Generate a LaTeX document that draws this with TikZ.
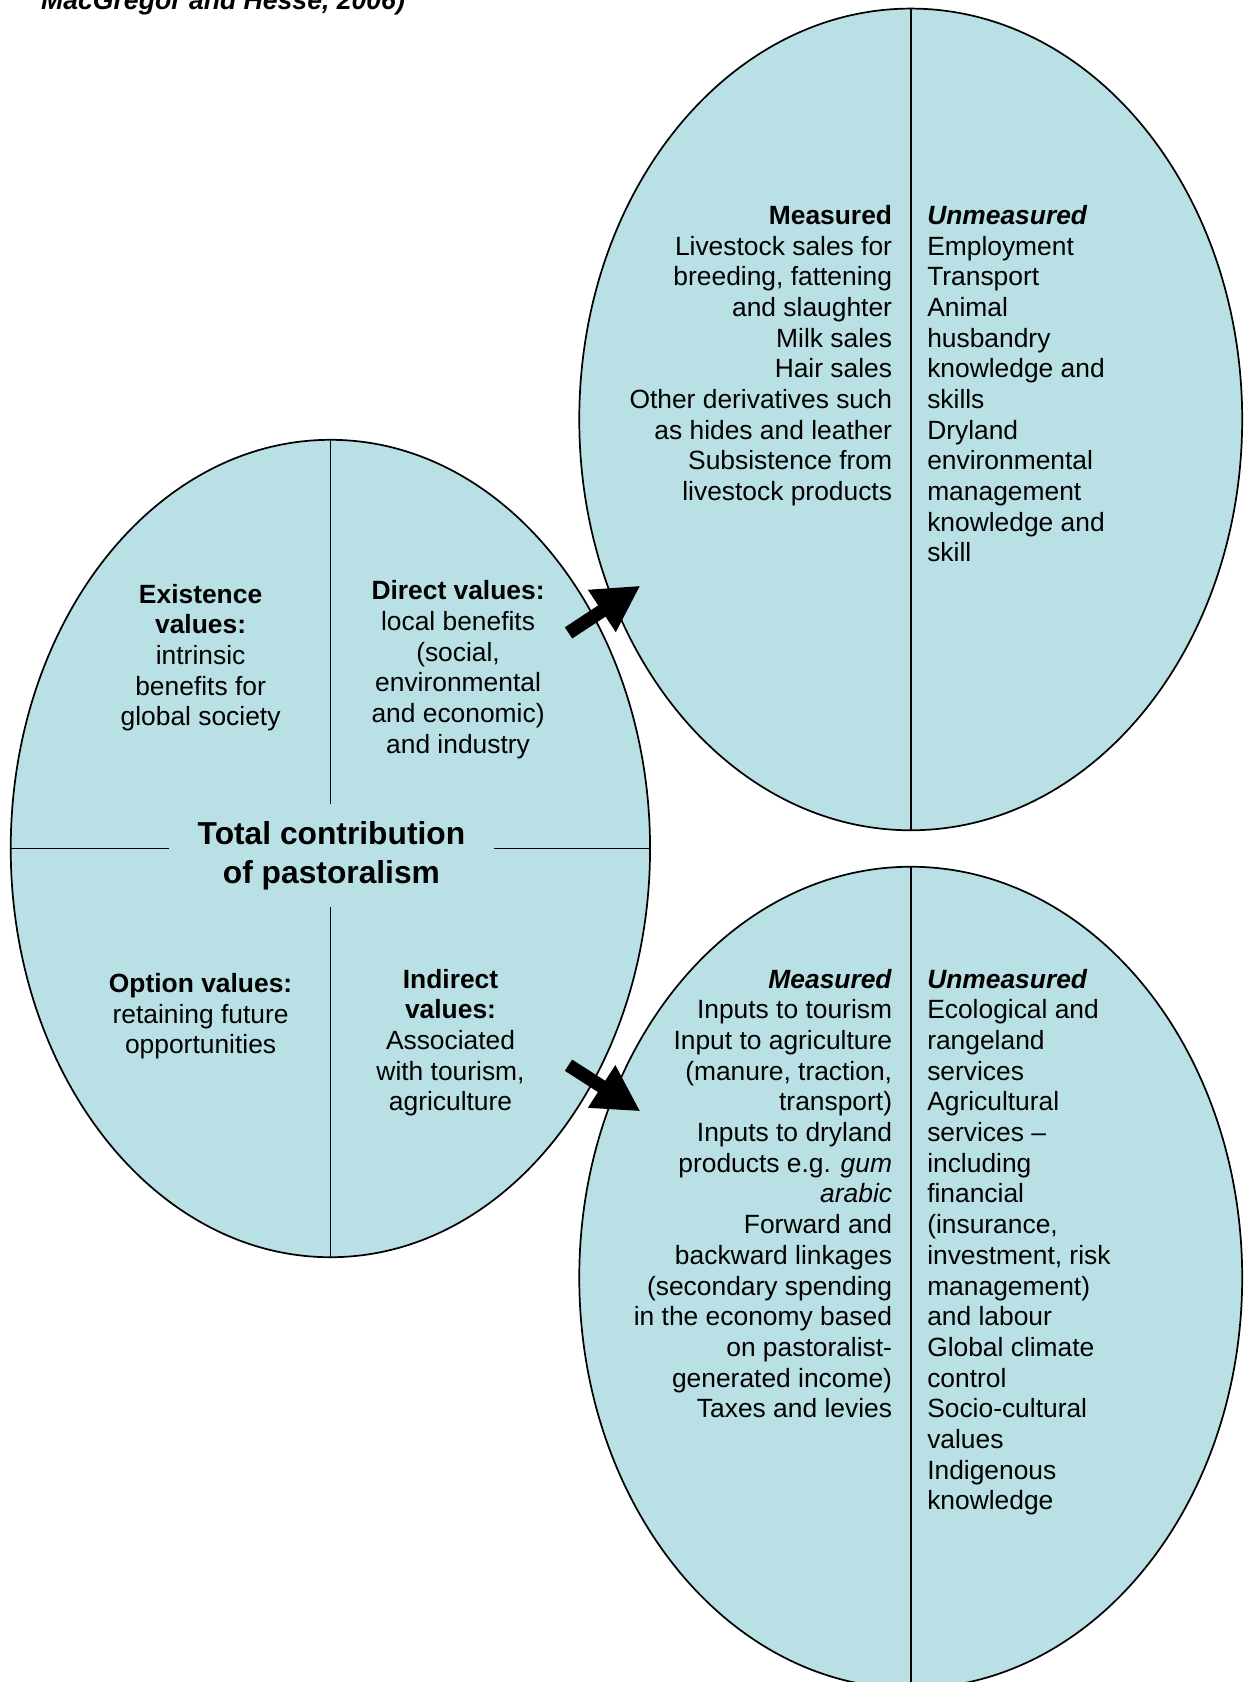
\documentclass[tikz,border=0pt]{standalone}
\usepackage{fontspec}
\setmainfont{Liberation Sans}
\usetikzlibrary{shapes.geometric,arrows.meta}
\definecolor{pastfill}{RGB}{185,224,228}

\begin{document}
\begin{tikzpicture}[x=0.5pt,y=-0.5pt,
	pool/.style={ellipse,draw=black,line width=0.8pt,fill=pastfill,inner sep=0pt,
	minimum width=309pt,minimum height=383pt},
	quad/.style={align=center,inner sep=0pt,anchor=north,font=\fontsize{12.3}{14.3}\selectfont},
	lcol/.style={align=right,inner sep=0pt,anchor=north east,font=\fontsize{12.3}{14.3}\selectfont},
	rcol/.style={align=left,inner sep=0pt,anchor=north west,font=\fontsize{12.3}{14.3}\selectfont},
	bigarrow/.style={line width=6.25pt,-{Triangle[length=21.5pt,width=22pt]}}]
\path[use as bounding box,clip] (0,0) rectangle (1159,1568);
\node[anchor=base west,inner sep=0pt,font=\fontsize{12.4}{14.3}\selectfont\bfseries\itshape] (src) at (38,9) {MacGregor and Hesse, 2006)};
\node[pool,minimum width=298pt,minimum height=381pt] (total) at (308,791) {};
\node[pool] (direct) at (849,391) {};
\node[pool] (indirect) at (849,1191) {};
\draw[line width=0.8pt] (direct.north) -- (direct.south);
\draw[line width=0.8pt] (indirect.north) -- (indirect.south);
\draw[line width=0.8pt] (total.west) -- ++(148,0);
\draw[line width=0.8pt] (total.east) -- ++(-146,0);
\draw[line width=0.8pt] (total.north) -- ++(0,340);
\draw[line width=0.8pt] (total.south) -- ++(0,-327);
\node[align=center,inner sep=0pt,font=\fontsize{14.8}{18}\selectfont\bfseries] (title) at (309,798) {Total contribution\\of pastoralism};
\node[quad] (exist) at (187,544) {\textbf{Existence}\\\textbf{values:}\\intrinsic\\benefits for\\global society};
\node[quad] (dirv) at (427,541) {\textbf{Direct values:}\\local benefits\\(social,\\environmental\\and economic)\\and industry};
\node[quad] (opt) at (187,907) {\textbf{Option values:}\\retaining future\\opportunities};
\node[quad] (indv) at (420,903) {\textbf{Indirect}\\\textbf{values:}\\Associated\\with tourism,\\agriculture};
\node[lcol] (dirm) at (832,191) {\textbf{Measured}\\Livestock sales for\\breeding, fattening\\and slaughter\\Milk sales\\Hair sales\\Other derivatives such\\as hides and leather\\Subsistence from\\livestock products};
\node[rcol] (diru) at (864,191) {\textbf{\textit{Unmeasured}}\\Employment\\Transport\\Animal\\husbandry\\knowledge and\\skills\\Dryland\\environmental\\management\\knowledge and\\skill};
\node[lcol] (indm) at (832,903) {\textbf{\textit{Measured}}\\Inputs to tourism\\Input to agriculture\\(manure, traction,\\transport)\\Inputs to dryland\\products e.g. \textit{gum}\\\textit{arabic}\\Forward and\\backward linkages\\(secondary spending\\in the economy based\\on pastoralist-\\generated income)\\Taxes and levies};
\node[rcol] (indu) at (864,903) {\textbf{\textit{Unmeasured}}\\Ecological and\\rangeland\\services\\Agricultural\\services –\\including\\financial\\(insurance,\\investment, risk\\management)\\and labour\\Global climate\\control\\Socio-cultural\\values\\Indigenous\\knowledge};
\coordinate (dtail) at (530,590);
\coordinate (dtip) at (597,546);
\coordinate (itail) at (530,993);
\coordinate (itip) at (597,1036);
\draw[bigarrow] (dtail) -- (dtip);
\draw[bigarrow] (itail) -- (itip);
\end{tikzpicture}
\end{document}
